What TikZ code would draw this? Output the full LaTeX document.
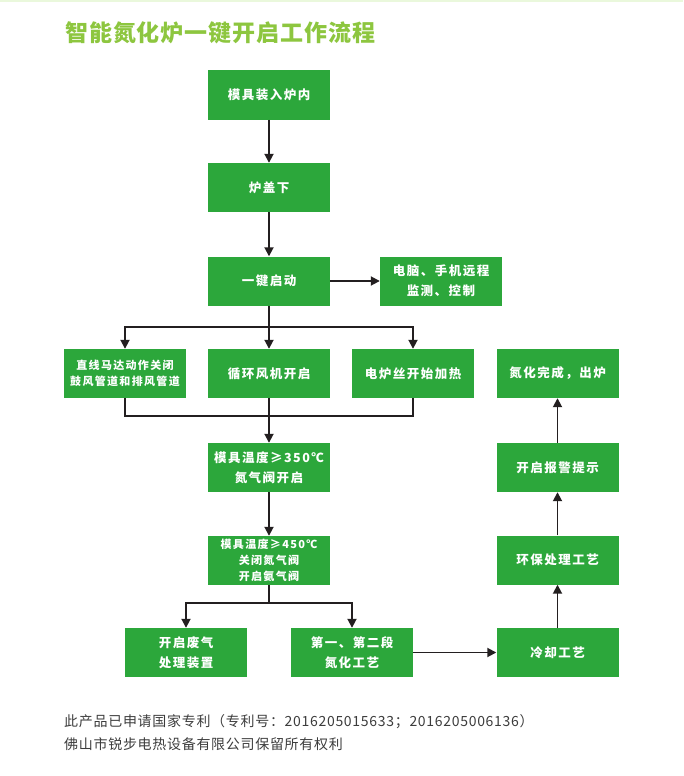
\documentclass[tikz,border=0pt]{standalone}
\usepackage{fontspec}
\usetikzlibrary{arrows.meta}
\setmainfont{Noto Sans CJK SC}
\newfontfamily\boxfont{Noto Sans CJK SC}[LetterSpace=12]
\newfontfamily\notefont{Noto Sans CJK SC}[LetterSpace=5]
\newfontfamily\titlefont{Noto Sans CJK SC}[LetterSpace=4]
\definecolor{boxgreen}{RGB}{44,167,59}
\definecolor{titlegreen}{RGB}{141,198,63}
\definecolor{topgreen}{RGB}{234,248,220}
\definecolor{lineblack}{RGB}{35,31,32}
\definecolor{notegray}{RGB}{60,60,60}
\tikzset{
  stepbox/.style={fill=boxgreen, text=white, minimum width=122pt, minimum height=49pt,
    inner sep=0pt, align=center, font=\boxfont\bfseries\fontsize{12.5}{20}\selectfont},
  smallbox/.style={stepbox, font=\boxfont\bfseries\fontsize{11}{16}\selectfont},
  flow/.style={draw=lineblack, line width=1.8pt, -{Triangle[length=9pt,width=9pt]}},
  link/.style={draw=lineblack, line width=1.8pt}
}
\begin{document}
\begin{tikzpicture}[x=1pt,y=1pt,yscale=-1,xscale=1]
    \useasboundingbox (0,0) rectangle (683,776);
    %top band
    \fill[topgreen] (0,0) rectangle (683,2.5);

    % Title
    \node (title) [anchor=west, inner sep=0pt, text=titlegreen, font=\titlefont\bfseries\fontsize{23}{25}\selectfont] at (65,32.5) {智能氮化炉一键开启工作流程};

    % main column
    \node (load) [stepbox] at (269,95) {模具装入炉内};
    \node (lid) [stepbox] at (269,187.5) {炉盖下};
    \node (start) [stepbox] at (269,281) {一键启动};
    \node (remote) [stepbox] at (441,281) {电脑、手机远程\\监测、控制};
    % parallel row
    \node (motor) [smallbox] at (125,373.5) {直线马达动作关闭\\鼓风管道和排风管道};
    \node (fan) [stepbox] at (269,373.5) {循环风机开启};
    \node (heat) [stepbox] at (413,373.5) {电炉丝开始加热};
    % temperature steps
    \node (t350) [stepbox] at (269,467.5) {模具温度≥350℃\\氮气阀开启};
    \node (t450) [smallbox] at (269,560.5) {模具温度≥450℃\\关闭氮气阀\\开启氨气阀};
    \node (exhaust) [stepbox] at (186,652.5) {开启废气\\处理装置};
    \node (nitride) [stepbox] at (352,652.5) {第一、第二段\\氮化工艺};
    % right column
    \node (cool) [stepbox] at (557.5,652.5) {冷却工艺};
    \node (eco) [stepbox] at (557.5,560) {环保处理工艺};
    \node (alarm) [stepbox] at (557.5,467.5) {开启报警提示};
    \node (done) [stepbox] at (557.5,373.5) {氮化完成，出炉};

    %branch points
    \coordinate (split1) at (269,327);
    \coordinate (merge1) at (269,416);
    \coordinate (split2) at (269,603);

    \draw[flow] (load) -- (lid);
    \draw[flow] (lid) -- (start);
    \draw[flow] (start) -- (remote);
    \draw[flow] (start) -- (fan);
    \draw[flow] (split1) -| (motor);
    \draw[flow] (split1) -| (heat);
    \draw[link] (motor) |- (merge1) -| (heat);
    \draw[flow] (fan) -- (t350);
    \draw[flow] (t350) -- (t450);
    \draw[link] (t450) -- (split2);
    \draw[flow] (split2) -| (exhaust);
    \draw[flow] (split2) -| (nitride);
    \draw[flow] (nitride) -- (cool);
    \draw[flow] (cool) -- (eco);
    \draw[flow] (eco) -- (alarm);
    \draw[flow] (alarm) -- (done);

    % footer
    \node (note1) [anchor=west, inner sep=0pt, text=notegray, font=\notefont\fontsize{14}{16}\selectfont] at (64,722) {此产品已申请国家专利（专利号：2016205015633；2016205006136）};
    \node (note2) [anchor=west, inner sep=0pt, text=notegray, font=\notefont\fontsize{14}{16}\selectfont] at (64,744) {佛山市锐步电热设备有限公司保留所有权利};
\end{tikzpicture}
\end{document}
